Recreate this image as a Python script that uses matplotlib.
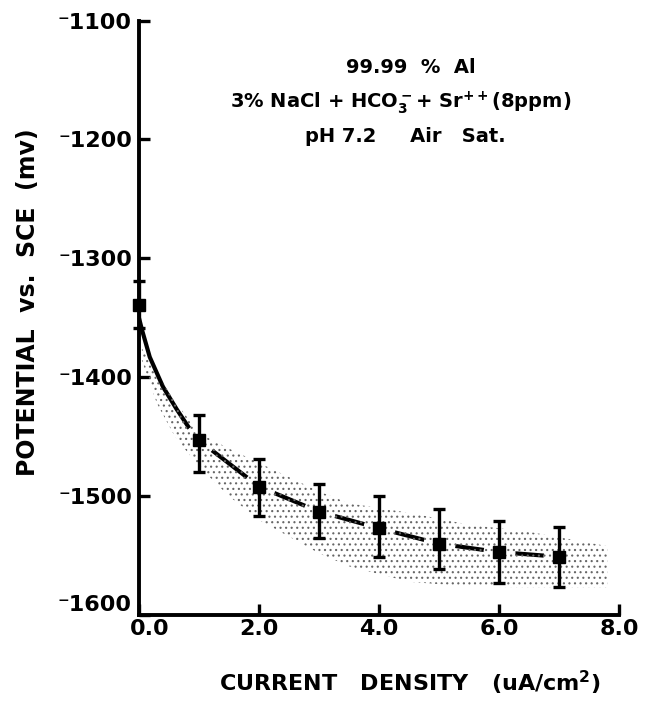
import matplotlib.pyplot as plt
import matplotlib.transforms as mtransforms

plt.rcParams['font.family'] = ['DejaVu Sans']
plt.rcParams['font.weight'] = 'bold'
plt.rcParams['axes.labelweight'] = 'bold'
plt.rcParams['mathtext.default'] = 'bf'
plt.rcParams['hatch.linewidth'] = 0.8

# measured points (current density uA/cm2, potential mV vs SCE)
cur = [0, 1, 2, 3, 4, 5, 6, 7]
pot = [-1339, -1453, -1492, -1513, -1527, -1540, -1547, -1551]
err_up = [20, 21, 23, 23, 27, 29, 26, 25]
err_dn = [20, 27, 25, 22, 24, 21, 26, 25]

# fitted curve
curve_x = [0, 0.05, 0.18, 0.4, 0.63, 0.88, 1, 2, 3, 4, 5, 6, 7]
curve_y = [-1350, -1360, -1383, -1408, -1427, -1446, -1453, -1492, -1513, -1527, -1540, -1547, -1551]

# stippled scatter band
band_x = [0.05, 0.3, 0.6, 1.0, 1.5, 2.0, 2.5, 3.0, 3.5, 4.5, 5.5, 6.5, 7.8]
band_hi = [-1375, -1398, -1420, -1447, -1460, -1472, -1484, -1496, -1506, -1514, -1524, -1530, -1542]
band_lo = [-1386, -1422, -1450, -1475, -1500, -1520, -1534, -1548, -1559, -1572, -1576, -1577, -1577]

xticks = [0, 2, 4, 6, 8]
xlabels = ['0.0', '2.0', '4.0', '6.0', '8.0']
yticks = [-1600, -1500, -1400, -1300, -1200, -1100]
ylabels = ['\u207b1600', '\u207b1500', '\u207b1400', '\u207b1300', '\u207b1200', '\u207b1100']

fig = plt.figure(figsize=(6.68, 7.07), dpi=100)
ax = fig.add_axes([0.208, 0.130, 0.719, 0.841])

ax.plot(curve_x, curve_y, color='black', lw=3, zorder=2, solid_capstyle='butt')
# white gaps around the markers
ax.plot(cur[1:], pot[1:], 'o', ms=22, color='white', mec='white', zorder=2.5)
ax.fill_between(band_x, band_lo, band_hi, facecolor='none', edgecolor='0.4',
                hatch='...', linewidth=0, zorder=3)
ax.errorbar(cur, pot, yerr=[err_dn, err_up], fmt='s', ms=8, color='black',
            ecolor='black', elinewidth=2.4, capsize=4.5, capthick=2.4,
            zorder=4, clip_on=False)

ax.set_xlim(0, 8)
ax.set_ylim(-1600, -1100)
ax.set_xticks(xticks)
ax.set_xticklabels(xlabels)
ax.set_yticks(yticks)
ax.set_yticklabels(ylabels)
ax.tick_params(direction='in', length=8, width=2.4, labelsize=16, pad=5)
ax.tick_params(axis='x', pad=3)

# keep the corner labels apart, as in the original
first_x = ax.get_xticklabels()[0]
first_x.set_transform(first_x.get_transform() +
                      mtransforms.ScaledTranslation(8 / 72, 0, fig.dpi_scale_trans))
ax.get_yticklabels()[0].set_va('bottom')

for s in ['top', 'right']:
    ax.spines[s].set_visible(False)
for s in ['left', 'bottom']:
    ax.spines[s].set_linewidth(2.8)

ax.set_xlabel('CURRENT   DENSITY   (uA/cm$^2$)', fontsize=16)
ax.xaxis.set_label_coords(0.565, -0.114)
ax.xaxis.label.set_va('center')
ax.set_ylabel('POTENTIAL  vs.  SCE  (mv)', fontsize=17)
ax.yaxis.set_label_coords(-0.23, 0.527)
ax.yaxis.label.set_va('center')

ax.text(0.567, 0.921, '99.99  %  Al', transform=ax.transAxes, ha='center', va='center', fontsize=14)
ax.text(0.545, 0.862, '3% NaCl + HCO$_3^-$+ Sr$^{++}$(8ppm)', transform=ax.transAxes,
        ha='center', va='center', fontsize=14)
ax.text(0.555, 0.805, 'pH 7.2     Air   Sat.', transform=ax.transAxes, ha='center', va='center', fontsize=14)

fig.savefig('out.png', dpi=100)
